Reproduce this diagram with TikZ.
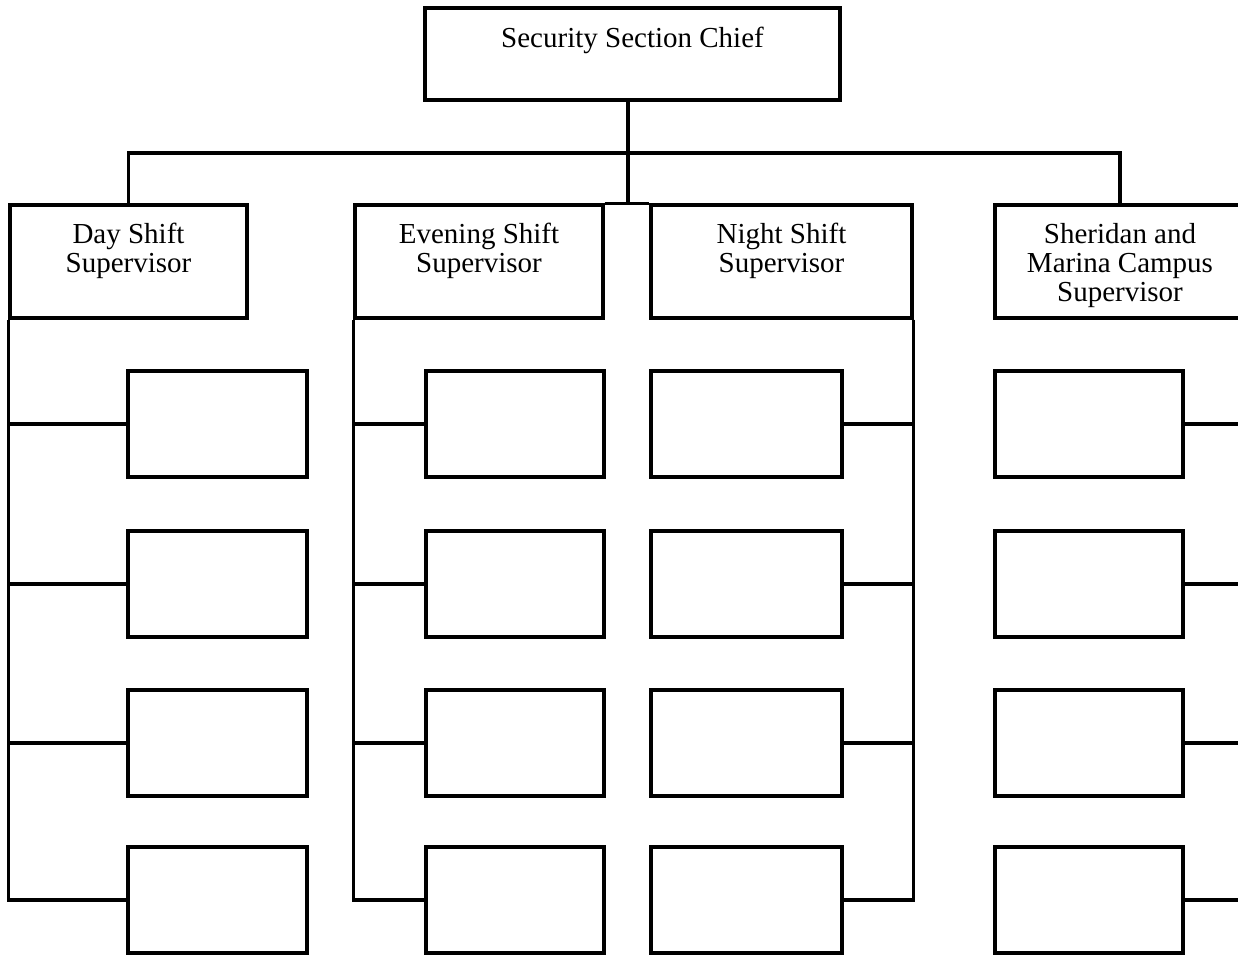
\documentclass[tikz,border=0pt]{standalone}
\usepackage{fontspec}
\setmainfont{Liberation Serif}
\usetikzlibrary{positioning}

\begin{document}
\begin{tikzpicture}[x=0.5pt, y=-0.5pt, line width=1.6pt,
  box/.style={draw, rectangle, inner sep=0pt},
  sup/.style={box, minimum height=56.5pt},
  post/.style={box, minimum height=53pt},
  title/.style={anchor=north, align=center, inner sep=0pt,
    font=\fontsize{14.5}{14.5}\selectfont}]

\useasboundingbox (0,0) rectangle (1238,954);

\node[box, minimum width=207.5pt, minimum height=46pt] (chief) at (632.5,54) {};
\node[title, below=9.5pt of chief.north] {Security Section Chief};

% supervisors
\node[sup, minimum width=118.5pt] (day) at (128.5,261.5) {};
\node[sup, minimum width=124pt] (evening) at (479,261.5) {};
\node[sup, minimum width=130.5pt] (night) at (781.5,261.5) {};
\node[sup, minimum width=125pt] (sheridan) at (1120,261.5) {};

\node[title, below=9pt of day.north] {Day Shift\\Supervisor};
\node[title, below=9pt of evening.north] {Evening Shift\\Supervisor};
\node[title, below=9pt of night.north] {Night Shift\\Supervisor};
\node[title, below=9pt of sheridan.north] {Sheridan and\\Marina Campus\\Supervisor};

\coordinate (hub) at (628,153);

\draw (chief.south -| hub) -- (hub |- evening.north);
\draw (day.north) |- (hub) -| (sheridan.north);
\draw (evening.north east) -- (night.north west);

% empty posts
\foreach \i/\y in {1/424,2/584,3/743,4/900} {
  \node[post, minimum width=89.5pt] (d\i) at (217.5,\y) {};
  \node[post, minimum width=89pt] (e\i) at (515,\y) {};
  \node[post, minimum width=95.5pt] (n\i) at (746.5,\y) {};
  \node[post, minimum width=94pt] (s\i) at (1089,\y) {};
}

\foreach \i in {1,2,3} {
  \draw (d\i.west) -- (d\i.west -| day.west);
  \draw (e\i.west) -- (e\i.west -| evening.west);
  \draw (n\i.east) -- (n\i.east -| night.east);
  \draw (s\i.east) -- (s\i.east -| sheridan.east);
}

\draw (day.south west) |- (d4.west);
\draw (evening.south west) |- (e4.west);
\draw (night.south east) |- (n4.east);
\draw (sheridan.south east) |- (s4.east);

\end{tikzpicture}
\end{document}
